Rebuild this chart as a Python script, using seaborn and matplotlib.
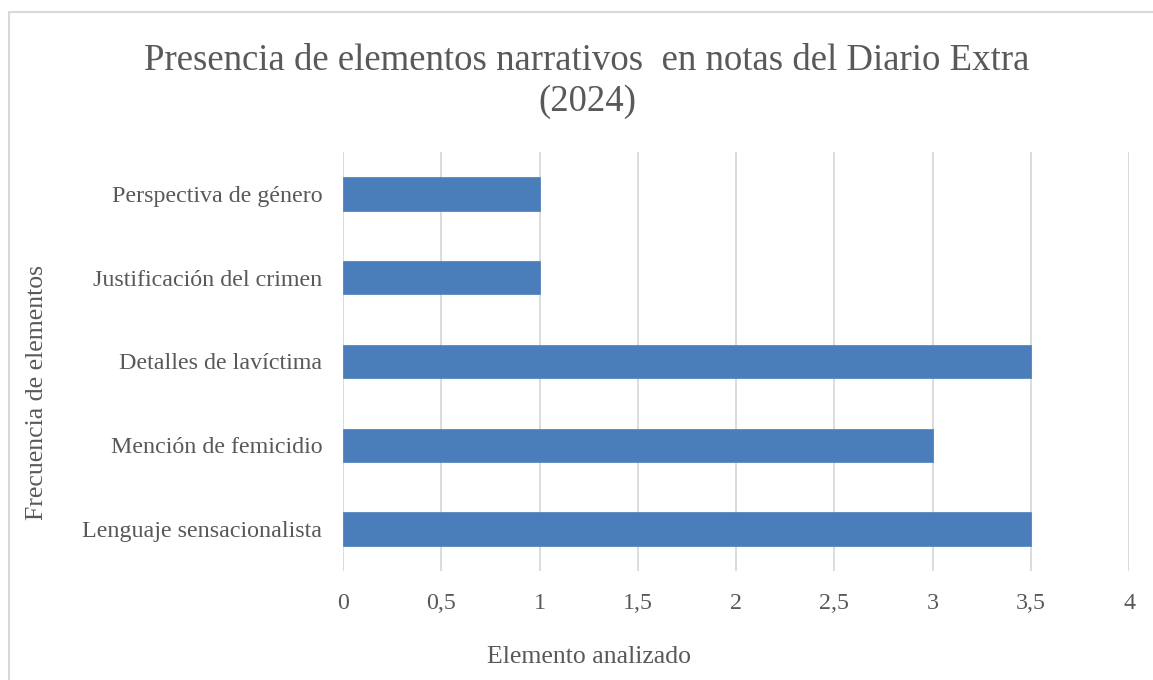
import matplotlib
matplotlib.use("Agg")
import matplotlib.pyplot as plt
import seaborn as sns
import pandas as pd
from matplotlib.lines import Line2D
from matplotlib.ticker import FuncFormatter, MultipleLocator

categories = ["Perspectiva de género", "Justificación del crimen", "Detalles de lavíctima",
              "Mención de femicidio", "Lenguaje sensacionalista"]
values = [1, 1, 3.5, 3, 3.5]
title = "Presencia de elementos narrativos  en notas del Diario Extra\n(2024)"
xlabel = "Elemento analizado"
ylabel = "Frecuencia de elementos"

sns.set_style("white")
plt.rcParams['font.family'] = ['Liberation Serif', 'DejaVu Serif']

df = pd.DataFrame({"cat": categories, "val": values})
txt = "#595959"

fig = plt.figure(figsize=(11.53, 6.8), dpi=100)
ax = fig.add_axes([0.2975, 0.1603, 0.6817, 0.6162])
sns.barplot(data=df, x="val", y="cat", order=categories, color="#4A7EBB",
            saturation=1, width=0.4, ax=ax, edgecolor="#4A7EBB", linewidth=0.5, zorder=3)
ax.set_xlim(0, 4)
ax.xaxis.set_major_locator(MultipleLocator(0.5))
ax.xaxis.set_major_formatter(FuncFormatter(lambda v, p: ("%g" % v).replace(".", ",")))
ax.grid(axis="x", color="#D9D9D9", linewidth=1.3, zorder=0)
ax.set_axisbelow(True)
for s in ax.spines.values():
    s.set_visible(False)
ax.tick_params(axis="both", length=0, colors=txt, labelsize=17.3)
ax.tick_params(axis="y", pad=15)
ax.tick_params(axis="x", pad=16)
ax.set_xlabel("")
ax.set_ylabel("")
fig.text(589/1153, 1 - 657/680, xlabel, ha="center", va="center", fontsize=18.5, color=txt)
fig.text(37/1153, 1 - 392/680, ylabel, ha="center", va="center", rotation=90, fontsize=18.5, color=txt)
fig.text(587/1153, 1 - 81/680, title, ha="center", va="center", fontsize=26.5, color=txt,
         linespacing=1.25)

fig.add_artist(Line2D([9/1153, 9/1153], [0, 1 - 12/680], color="#D9D9D9", linewidth=1.5,
                      transform=fig.transFigure))
fig.add_artist(Line2D([9/1153, 1], [1 - 12/680, 1 - 12/680], color="#D9D9D9", linewidth=1.5,
                      transform=fig.transFigure))
fig.savefig("out.png", dpi=100)
